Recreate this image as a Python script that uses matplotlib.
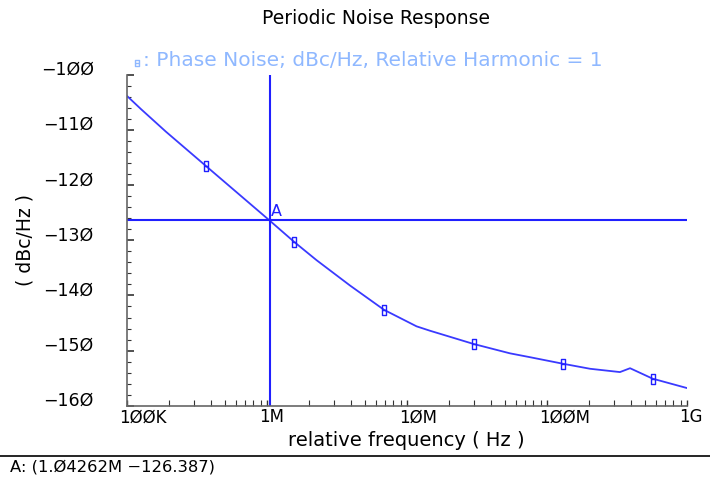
import matplotlib
matplotlib.use("Agg")
import matplotlib.pyplot as plt
from matplotlib.path import Path
from matplotlib.lines import Line2D
from matplotlib.ticker import FixedLocator, NullFormatter
from matplotlib.transforms import ScaledTranslation

# ---- data ----
freq = [1.0e5, 1.26e5, 1.9e5, 3.66e5, 1.04262e6, 1.567e6, 2.26e6, 3.92e6,
        6.85e6, 1.17e7, 1.46e7, 2.99e7, 5.44e7, 7.56e7, 1.308e8, 2.03e8,
        3.32e8, 3.92e8, 5.69e8, 1.0e9]
noise = [-103.8, -106.2, -110.3, -116.5, -126.387, -130.3, -133.6, -138.2,
         -142.6, -145.6, -146.4, -148.8, -150.5, -151.2, -152.4, -153.3,
         -153.9, -153.2, -155.1, -156.8]
marker_freq = [3.66e5, 1.567e6, 6.85e6, 2.99e7, 1.308e8, 5.69e8]
marker_val = [-116.5, -130.3, -142.6, -148.8, -152.4, -155.1]
cursor_x = 1.04262e6
cursor_y = -126.387
xtick_vals = [1e5, 1e6, 1e7, 1e8, 1e9]
xtick_labels = ["1ØØK", "1M", "1ØM", "1ØØM", "1G"]
ytick_vals = [-100, -110, -120, -130, -140, -150, -160]
ytick_labels = ["−1ØØ", "−11Ø", "−12Ø", "−13Ø", "−14Ø", "−15Ø", "−16Ø"]

title = "Periodic Noise Response"
legend_text = ": Phase Noise; dBc/Hz, Relative Harmonic = 1"
xlabel = "relative frequency ( Hz )"
ylabel = "( dBc/Hz )"
cursor_text = "A: (1.Ø4262M −126.387)"

# ---- styling ----
W, H = 710, 478
LINE = "#3a3aff"
CROSS = "#2020ff"
LEG = "#8fb8ff"
plt.rcParams["font.family"] = ["DejaVu Sans"]

fig = plt.figure(figsize=(W / 100, H / 100), dpi=100)
ax = fig.add_axes([127 / W, 1 - 405.7 / H, 560 / W, 330.7 / H])

# custom marker: tall rectangle with a middle bar
verts = [(-0.5, -1), (0.5, -1), (0.5, 1), (-0.5, 1), (-0.5, -1), (-0.5, 0), (0.5, 0)]
codes = [Path.MOVETO, Path.LINETO, Path.LINETO, Path.LINETO, Path.CLOSEPOLY,
         Path.MOVETO, Path.LINETO]
mpath = Path(verts, codes)

ax.plot(freq, noise, color=LINE, lw=1.3)
ax.plot(marker_freq, marker_val, ls="none", marker=mpath, ms=7,
        mfc="none", mec=CROSS, mew=1.0)
ax.axvline(cursor_x, color=CROSS, lw=1.5)
ax.axhline(cursor_y, color=CROSS, lw=1.5)
ax.text(cursor_x * 1.02, cursor_y + 0.3, "A", color=CROSS, fontsize=11.5,
        ha="left", va="bottom")

ax.set_xscale("log")
ax.set_xlim(1e5, 1e9)
ax.set_ylim(-160, -100)

ax.xaxis.set_major_locator(FixedLocator(xtick_vals))
ax.set_xticklabels(xtick_labels)
minors = [m * d for d in (1e5, 1e6, 1e7, 1e8) for m in range(2, 10)]
ax.xaxis.set_minor_locator(FixedLocator(minors))
ax.xaxis.set_minor_formatter(NullFormatter())
ax.set_yticks(ytick_vals)
ax.set_yticklabels(ytick_labels)
ax.yaxis.set_minor_locator(FixedLocator(list(range(-160, -99, 2))))

for s in ("top", "right"):
    ax.spines[s].set_visible(False)
for s in ("left", "bottom"):
    ax.spines[s].set_color("#666666")
    ax.spines[s].set_linewidth(1.2)

ax.tick_params(axis="both", which="both", direction="in", color="#333333")
ax.tick_params(axis="y", which="major", length=5, width=1.2, labelsize=12.5, pad=24)
ax.tick_params(axis="y", which="minor", length=3, width=0.8)
ax.tick_params(axis="x", which="major", length=4, width=1.0, labelsize=12, pad=2)
ax.tick_params(axis="x", which="minor", length=4, width=0.8)

# x tick labels start a little left of their tick; y labels sit a bit above
for lab in ax.get_xticklabels():
    lab.set_horizontalalignment("left")
    lab.set_transform(lab.get_transform() + ScaledTranslation(-8 / 100, 0, fig.dpi_scale_trans))
for lab in ax.get_yticklabels():
    lab.set_transform(lab.get_transform() + ScaledTranslation(0, 7 / 100, fig.dpi_scale_trans))

# texts
fig.text(376 / W, 1 - 18 / H, title, ha="center", va="center", fontsize=13.5)
fig.add_artist(Line2D([137 / W], [1 - 63 / H], marker=mpath, ms=5, mfc="none",
                      mec=LEG, mew=1.0, transform=fig.transFigure))
fig.text(143 / W, 1 - 61 / H, legend_text, ha="left", va="center",
         fontsize=14.5, color=LEG)
fig.text(25 / W, 1 - 240 / H, ylabel, ha="center", va="center", rotation=90,
         fontsize=13.5)
fig.text(406 / W, 1 - 440 / H, xlabel, ha="center", va="center", fontsize=14)
fig.add_artist(Line2D([0, 1], [1 - 456 / H, 1 - 456 / H], color="black", lw=1.2,
                      transform=fig.transFigure))
fig.text(10 / W, 1 - 467 / H, cursor_text, ha="left", va="center", fontsize=11.8)

fig.savefig("out.png", dpi=100)
